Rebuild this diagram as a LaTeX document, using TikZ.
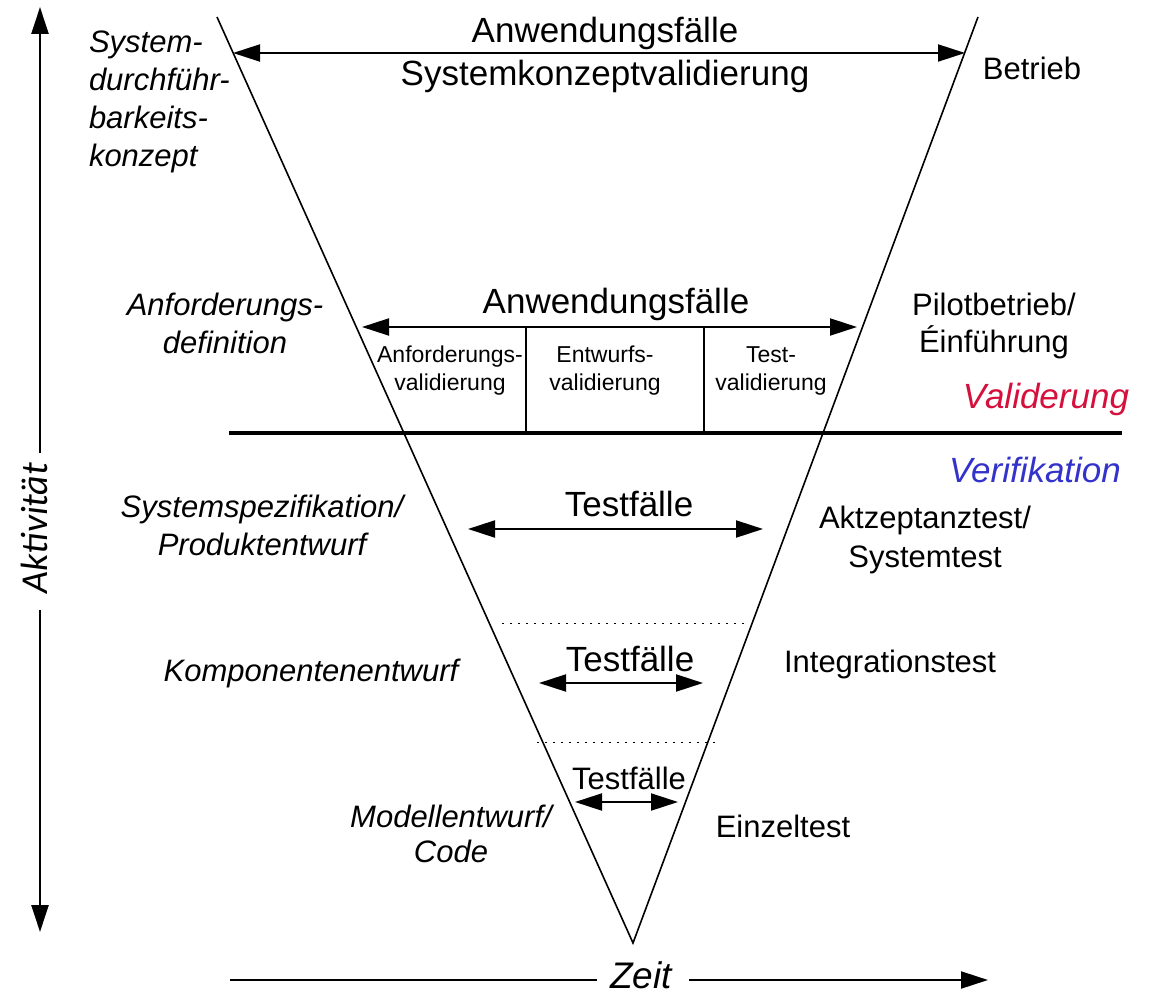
\documentclass[tikz,border=0pt]{standalone}
\usepackage{fontspec}
\setmainfont{Liberation Sans}
\newfontfamily\axisfont{Carlito}
\usetikzlibrary{arrows.meta}
\definecolor{valred}{RGB}{214,16,60}
\definecolor{verblue}{RGB}{51,51,204}
\begin{document}
\begin{tikzpicture}[x=1pt,y=-1pt,
  every node/.style={inner sep=0pt, outer sep=0pt},
  lbl/.style={font=\fontsize{31}{38}\selectfont, align=center, anchor=base},
  phase/.style={lbl, font=\fontsize{31}{38}\selectfont\itshape},
  big/.style={font=\fontsize{35}{42}\selectfont, anchor=base},
  small/.style={font=\fontsize{23}{28}\selectfont, align=center, anchor=base},
  axislabel/.style={font=\axisfont\itshape\fontsize{38}{44}\selectfont},
  vshape/.style={line width=1.6pt},
  tipshape/.tip={Triangle[length=27pt,width=17pt]},
  dblarrow/.style={line width=2pt, tipshape-tipshape},
  axisline/.style={line width=2.4pt},
  sepline/.style={line width=4.5pt},
  divider/.style={line width=1.6pt},
  dotline/.style={line width=1pt, dash pattern=on 1.5pt off 6.5pt}
]
\fill[white] (0,0) rectangle (1151,995);
\useasboundingbox (0,0) rectangle (1151,995);

% the V of the development process
\coordinate (vl) at (217,17);
\coordinate (vb) at (633,943);
\coordinate (vr) at (978,17);
\draw[vshape] (vl) -- (vb) -- (vr);

% activity axis
\coordinate (atop) at (40,7);
\coordinate (agapt) at (40,453);
\coordinate (agapb) at (40,610);
\coordinate (abot) at (40,932);
\node[axislabel, rotate=90] (akt) at (34,528) {Aktivität};
\draw[axisline, -tipshape] (agapt) -- (atop);
\draw[axisline, -tipshape] (agapb) -- (abot);

% time axis
\coordinate (tstart) at (230,980);
\coordinate (tgapl) at (597,980);
\coordinate (tgapr) at (689,980);
\coordinate (tend) at (988,980);
\node[font=\fontsize{37}{44}\selectfont\itshape, anchor=base, text depth=0pt] (zeit) at (641,988) {Zeit};
\draw[line width=2pt] (tstart) -- (tgapl);
\draw[line width=2pt, -tipshape] (tgapr) -- (tend);

% system concept validation
\coordinate (u1l) at (233,53);
\coordinate (u1r) at (965,53);
\node[big] (uc1) at (605,43) {Anwendungsfälle};
\node[big] (scv) at (605,86) {Systemkonzeptvalidierung};
\draw[dblarrow] (u1l) -- (u1r);

% validation block
\coordinate (u2l) at (362,327);
\coordinate (u2r) at (857,327);
\node[big] (uc2) at (616,313) {Anwendungsfälle};
\draw[dblarrow] (u2l) -- (u2r);
\coordinate (d1t) at (526,327);
\coordinate (d1b) at (526,433);
\coordinate (d2t) at (704,327);
\coordinate (d2b) at (704,433);
\draw[divider] (d1t) -- (d1b);
\draw[divider] (d2t) -- (d2b);
\node[small] (reqval) at (450,390) {Anforderungs-\\validierung};
\node[small] (desval) at (605,390) {Entwurfs-\\validierung};
\node[small] (testval) at (771,390) {Test-\\validierung};

% separation between validation and verification
\coordinate (sepl) at (229,433);
\coordinate (sepr) at (1122,433);
\draw[sepline] (sepl) -- (sepr);
\node[font=\fontsize{35}{42}\selectfont\itshape, text=valred, anchor=base] (valid) at (1046,408) {Validerung};
\node[font=\fontsize{35}{42}\selectfont\itshape, text=verblue, anchor=base] (verif) at (1035,482) {Verifikation};

% verification levels
\coordinate (t1l) at (468,529);
\coordinate (t1r) at (763,529);
\node[big] (tc1) at (629,516) {Testfälle};
\draw[dblarrow] (t1l) -- (t1r);

\coordinate (dl1a) at (502,623);
\coordinate (dl1b) at (750,623);
\draw[dotline] (dl1a) -- (dl1b);

\coordinate (t2l) at (539,683);
\coordinate (t2r) at (703,683);
\node[big] (tc2) at (630,671) {Testfälle};
\draw[dblarrow] (t2l) -- (t2r);

\coordinate (dl2a) at (537,742);
\coordinate (dl2b) at (715,742);
\draw[dotline] (dl2a) -- (dl2b);

\coordinate (t3l) at (575,802);
\coordinate (t3r) at (678,802);
\node[lbl] (tc3) at (629,789) {Testfälle};
\draw[dblarrow] (t3l) -- (t3r);

% phases on the left
\node[phase, align=left, anchor=base west] (feas) at (89,167) {System-\\durchführ-\\barkeits-\\konzept};
\node[phase] (reqdef) at (225,353) {Anforderungs-\\definition};
\node[phase] (sysspec) at (262,555) {Systemspezifikation/\\Produktentwurf};
\node[phase] (compdes) at (311,681) {Komponentenentwurf};
\node[phase, font=\fontsize{31}{35}\selectfont\itshape] (modeldes) at (451,862) {Modellentwurf/\\Code};

% phases on the right
\node[lbl] (oper) at (1032,80) {Betrieb};
\node[lbl, font=\fontsize{31}{37}\selectfont] (pilot) at (994,352) {Pilotbetrieb/\\Éinführung};
\node[lbl, font=\fontsize{31}{39}\selectfont] (accept) at (925,567) {Aktzeptanztest/\\Systemtest};
\node[lbl] (integ) at (890,672) {Integrationstest};
\node[lbl] (unit) at (783,837) {Einzeltest};
\end{tikzpicture}
\end{document}
